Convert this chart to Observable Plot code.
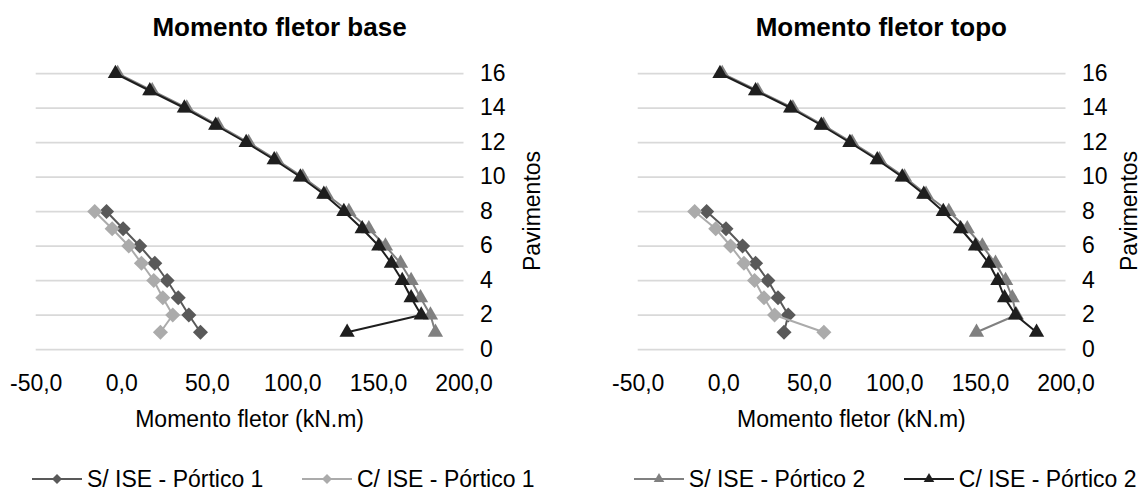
<!DOCTYPE html>
<html><head><meta charset="utf-8">
<script src="https://cdn.jsdelivr.net/npm/d3@7"></script>
<script src="https://cdn.jsdelivr.net/npm/@observablehq/plot@0.6"></script>
<style>
body{margin:0;background:#fff;overflow:hidden}
#root{position:relative;width:1141px;height:491px;font-family:"Liberation Sans",Arial,sans-serif;color:#000;overflow:hidden}
.abs{position:absolute;white-space:nowrap;line-height:1}
.plotbox{position:absolute;top:0}
</style></head><body><div id="root"></div>
<script>
// ---- data ----
const floors16 = [1,2,3,4,5,6,7,8,9,10,11,12,13,14,15,16];
const floors8 = [1,2,3,4,5,6,7,8];
const xTicks = [-50,0,50,100,150,200];
const yTicks = [0,2,4,6,8,10,12,14,16];
const seriesNames = ["S/ ISE - Pórtico 1","C/ ISE - Pórtico 1","S/ ISE - Pórtico 2","C/ ISE - Pórtico 2"];
const chartTitles = ["Momento fletor base","Momento fletor topo"];
const xLabel = "Momento fletor (kN.m)";
const yLabel = "Pavimentos";

// Momento fletor base
const baseS1 = [46.0, 39.2, 33.0, 26.5, 19.3, 10.5, 0.8, -8.9];
const baseC1 = [22.6, 29.8, 24.0, 18.7, 11.5, 4.1, -5.6, -15.8];
const baseS2 = [183.3, 180.4, 174.6, 169.1, 162.9, 154.1, 144.4, 132.7, 119.5, 105.8, 90.5, 74.1, 56.3, 38.0, 17.8, -2.4];
const baseC2 = [131.7, 175.0, 169.1, 163.9, 157.6, 150.2, 140.5, 129.8, 118.1, 104.4, 89.1, 72.7, 54.9, 36.6, 16.4, -3.7];
// Momento fletor topo
const topoS1 = [35.2, 37.7, 31.7, 25.8, 18.6, 11.0, 1.3, -10.0];
const topoC1 = [58.5, 29.7, 23.5, 18.0, 11.8, 4.0, -4.7, -17.0];
const topoS2 = [147.7, 171.0, 168.6, 164.7, 158.8, 151.1, 142.3, 131.5, 118.2, 105.6, 91.0, 75.0, 58.3, 40.4, 19.9, -0.9];
const topoC2 = [182.8, 170.5, 164.1, 160.2, 154.9, 147.1, 138.4, 128.3, 116.9, 104.3, 89.7, 73.7, 57.0, 39.1, 18.6, -2.2];

// ---- styles ----
const FONT = '"Liberation Sans", Arial, sans-serif';
const styles = [
  {color:"#595959", symbol:"diamond2", r:6.8, lw:2},
  {color:"#ababab", symbol:"diamond2", r:6.8, lw:2},
  {color:"#808080", symbol:"triangle2", r:7.3, lw:2},
  {color:"#1e1e1e", symbol:"triangle2", r:7.3, lw:2}
];

const root = document.getElementById("root");
function addText(txt, opts){
  const d = document.createElement("div");
  d.className = "abs";
  d.textContent = txt;
  Object.assign(d.style, opts);
  root.appendChild(d);
  return d;
}

function makeChart(valuesList, left, title, titleCx, yLabelX){
  const floorsList = [floors8, floors8, floors16, floors16];
  const marks = [Plot.gridY(yTicks, {stroke:"#d9d9d9", strokeOpacity:1, strokeWidth:1.75})];
  valuesList.forEach((vals, i) => {
    const rows = vals.map((v, j) => ({floor: floorsList[i][j], value: v}));
    const st = styles[i];
    marks.push(Plot.line(rows, {x:"value", y:"floor", stroke:st.color, strokeWidth:st.lw}));
    marks.push(Plot.dot(rows, {x:"value", y:"floor", symbol:st.symbol, fill:st.color, r:st.r, stroke:"none"}));
  });
  const svg = Plot.plot({
    width: 540, height: 420,
    marginLeft: 35.7, marginRight: 76.5, marginTop: 73, marginBottom: 71,
    style: {fontFamily: FONT, fontSize: "23px", color: "#000", background: "transparent", overflow: "visible"},
    x: {domain:[-50,200], ticks: xTicks, tickFormat: d => d.toFixed(1).replace(".", ","), label: null, tickSize: 0, tickPadding: 25},
    y: {domain:[0,16], ticks: yTicks, label: null, tickSize: 0, tickPadding: 16, axis: "right"},
    marks
  });
  const box = document.createElement("div");
  box.className = "plotbox";
  box.style.left = left + "px";
  box.style.width = "540px";
  box.appendChild(svg);
  root.appendChild(box);
  // title
  addText(title, {left: titleCx + "px", top: (36 - 0.8465*26) + "px", fontSize: "26px", fontWeight: "bold", transform: "translateX(-50%)"});
  // x label
  const plotCx = left + 35.7 + (540 - 35.7 - 76.5)/2;
  addText(xLabel, {left: plotCx + "px", top: (427 - 0.8465*23) + "px", fontSize: "23px", transform: "translateX(-50%)"});
  // y label (rotated)
  addText(yLabel, {left: yLabelX + "px", top: "211px", fontSize: "23px", transform: "translate(-50%,-50%) rotate(-90deg)"});
}

makeChart([baseS1, baseC1, baseS2, baseC2], 0, chartTitles[0], 279.5, 531.7);
makeChart([topoS1, topoC1, topoS2, topoC2], 601.8, chartTitles[1], 881.3, 1128.5);

// ---- legend ----
const legendX = [32, 302, 633.8, 903.8];
const legendY = 479;
seriesNames.forEach((name, i) => {
  const st = styles[i];
  const sw = document.createElementNS("http://www.w3.org/2000/svg", "svg");
  sw.setAttribute("width", 50); sw.setAttribute("height", 20);
  sw.style.position = "absolute";
  sw.style.left = legendX[i] + "px";
  sw.style.top = (legendY - 10) + "px";
  const ln = document.createElementNS("http://www.w3.org/2000/svg", "line");
  ln.setAttribute("x1", 0); ln.setAttribute("x2", 50); ln.setAttribute("y1", 10); ln.setAttribute("y2", 10);
  ln.setAttribute("stroke", st.color); ln.setAttribute("stroke-width", 2);
  sw.appendChild(ln);
  const p = document.createElementNS("http://www.w3.org/2000/svg", "path");
  const sym = st.symbol === "diamond2" ? d3.symbolDiamond2 : d3.symbolTriangle2;
  p.setAttribute("d", d3.symbol(sym, st.symbol === "diamond2" ? 64 : 80)());
  p.setAttribute("transform", "translate(25,10)");
  p.setAttribute("fill", st.color);
  sw.appendChild(p);
  root.appendChild(sw);
  addText(name, {left: (legendX[i] + 55) + "px", top: (legendY + 8.3 - 0.8465*23) + "px", fontSize: "23px"});
});
</script>
</body></html>
